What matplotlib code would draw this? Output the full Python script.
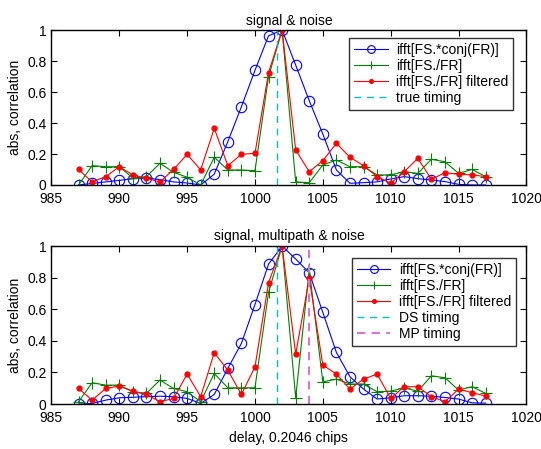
import numpy as np
import matplotlib
matplotlib.use("Agg")
import matplotlib.pyplot as plt

plt.rcParams["font.family"] = ["Liberation Sans", "DejaVu Sans"]
plt.rcParams["font.size"] = 10

delay = np.arange(987, 1018)

# signal & noise
top_xcorr = [0.0, 0.01, 0.02, 0.03, 0.04, 0.045, 0.035, 0.02, 0.013, 0.0,
             0.07, 0.28, 0.505, 0.74, 0.963, 1.0, 0.774, 0.544, 0.329, 0.097,
             0.011, 0.015, 0.02, 0.039, 0.054, 0.041, 0.032, 0.022, 0.004, 0.0, 0.0]
top_div = [0.0, 0.125, 0.118, 0.118, 0.045, 0.054, 0.14, 0.082, 0.05, 0.0,
           0.179, 0.097, 0.097, 0.092, 0.70, 1.0, 0.02, 0.015, 0.129, 0.161,
           0.118, 0.118, 0.065, 0.065, 0.086, 0.075, 0.166, 0.15, 0.075, 0.10, 0.054]
top_filt = [0.10, 0.02, 0.054, 0.118, 0.065, 0.043, 0.02, 0.10, 0.198, 0.097,
            0.366, 0.125, 0.198, 0.204, 0.725, 1.0, 0.226, 0.086, 0.157, 0.269,
            0.179, 0.125, 0.054, 0.011, 0.086, 0.172, 0.037, 0.079, 0.069, 0.065, 0.054]
true_timing = 1001.6

# signal, multipath & noise
bot_xcorr = [0.0, 0.004, 0.025, 0.04, 0.043, 0.047, 0.05, 0.047, 0.036, 0.004,
             0.061, 0.226, 0.384, 0.63, 0.886, 1.0, 0.918, 0.831, 0.58, 0.327,
             0.173, 0.095, 0.032, 0.04, 0.053, 0.053, 0.05, 0.042, 0.032, 0.008, 0.006]
bot_div = [0.015, 0.135, 0.12, 0.12, 0.078, 0.068, 0.152, 0.099, 0.078, 0.015,
           0.194, 0.103, 0.103, 0.103, 0.707, 1.0, 0.04, 0.852, 0.141, 0.158,
           0.127, 0.127, 0.078, 0.082, 0.103, 0.082, 0.179, 0.167, 0.089, 0.11, 0.068]
bot_filt = [0.099, 0.025, 0.099, 0.114, 0.082, 0.061, 0.015, 0.036, 0.19, 0.047,
            0.325, 0.215, 0.061, 0.236, 0.768, 1.0, 0.316, 0.795, 0.247, 0.19,
            0.095, 0.158, 0.19, 0.036, 0.11, 0.11, 0.047, 0.015, 0.095, 0.072, 0.051]
ds_timing = 1001.6
mp_timing = 1004.0

labels = ["ifft[FS.*conj(FR)]", "ifft[FS./FR]", "ifft[FS./FR] filtered"]
cyan = (0.0, 0.75, 0.75)
magenta = (0.85, 0.45, 0.85)


def draw_curves(ax, xcorr, div, filt):
    ax.plot(delay, xcorr, color="b", lw=0.8, marker="o", ms=7.5, mfc="none",
            mew=0.8, label=labels[0])
    ax.plot(delay, div, color=(0, 0.5, 0), lw=0.8, marker="+", ms=8,
            mew=0.8, label=labels[1])
    ax.plot(delay, filt, color="r", lw=0.8, marker="o", ms=3.5,
            label=labels[2])


def style(ax):
    ax.set_xlim(985, 1020)
    ax.set_ylim(0, 1)
    ax.set_xticks(np.arange(985, 1021, 5))
    ax.set_yticks([0, 0.2, 0.4, 0.6, 0.8, 1])
    ax.set_yticklabels(["0", "0.2", "0.4", "0.6", "0.8", "1"])
    ax.tick_params(direction="in", top=True, right=True, length=4, width=0.8)
    ax.tick_params(axis="x", pad=5)
    for s in ax.spines.values():
        s.set_linewidth(1.0)
    ax.set_ylabel("abs, correlation")


def add_legend(ax, anchor):
    leg = ax.legend(loc="upper right", bbox_to_anchor=anchor,
                    borderaxespad=0, fancybox=False, edgecolor="k",
                    numpoints=1, handlelength=2.4, labelspacing=0.15,
                    borderpad=0.35, handletextpad=0.6, markerscale=0.75)
    leg.get_frame().set_linewidth(1.0)


fig = plt.figure(figsize=(5.41, 4.49), dpi=100)

ax1 = fig.add_axes([0.095, 0.588, 0.878, 0.345])
draw_curves(ax1, top_xcorr, top_div, top_filt)
ax1.plot([true_timing, true_timing], [0, 1], "--", color=cyan, lw=1,
         dashes=(5, 4), label="true timing")
style(ax1)
ax1.set_title("signal & noise", fontsize=10, pad=4)
add_legend(ax1, (0.972, 0.948))

ax2 = fig.add_axes([0.095, 0.100, 0.878, 0.352])
draw_curves(ax2, bot_xcorr, bot_div, bot_filt)
ax2.plot([ds_timing, ds_timing], [0, 1], "--", color=cyan, lw=1,
         dashes=(5, 4), label="DS timing")
ax2.plot([mp_timing, mp_timing], [0, 1], "--", color=magenta, lw=1.5,
         dashes=(4, 3), label="MP timing")
style(ax2)
ax2.set_title("signal, multipath & noise", fontsize=10, pad=4)
ax2.set_xlabel("delay, 0.2046 chips")
add_legend(ax2, (0.978, 0.924))

fig.savefig("out.png", dpi=100)
